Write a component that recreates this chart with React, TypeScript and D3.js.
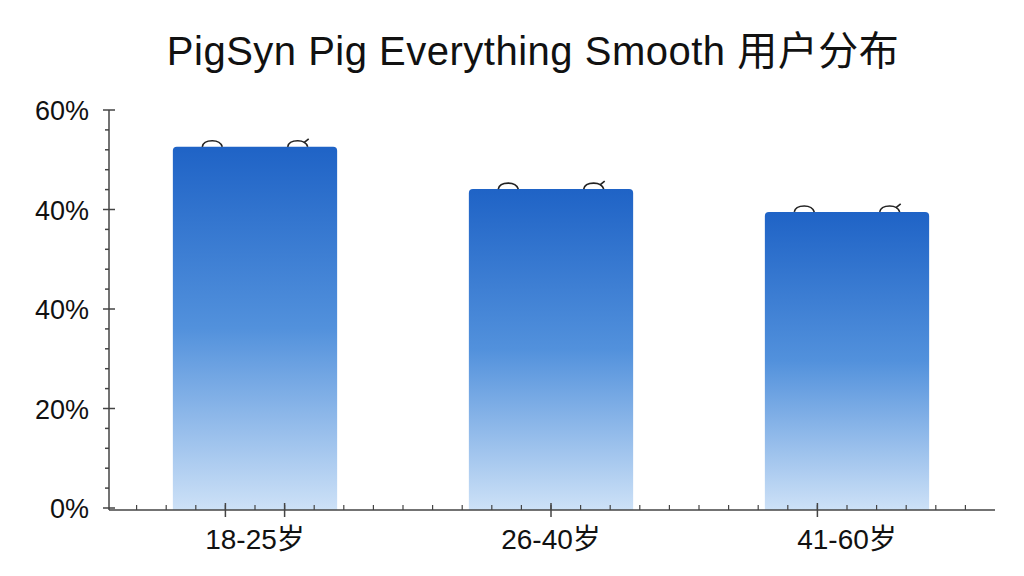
import * as d3 from "d3";
import { useEffect, useRef } from "react";

const title = "PigSyn Pig Everything Smooth 用户分布";
const categories = ["18-25岁", "26-40岁", "41-60岁"];
const values = [72.6, 64.1, 59.5];
const yTickValues = [0, 20, 40, 60, 80];
const yTickLabels = ["0%", "20%", "40%", "40%", "60%"];
// minor x ticks that are drawn longer in the reference
const xLongTicks = [4, 6, 15, 24];

const width = 1024;
const height = 576;

export default function App() {
  const svgRef = useRef<SVGSVGElement>(null);

  useEffect(() => {
    const svg = d3.select(svgRef.current);
    svg.selectChildren("*").remove();

    const left = 109;
    const right = 995;
    const top = 110;
    const bottom = 508;
    const axisY = 510;

    const x = d3
      .scaleBand<string>()
      .domain(categories)
      .range([left - 2, right])
      .paddingInner(0.445)
      .paddingOuter(0.2225);

    const y = d3.scaleLinear().domain([0, 80]).range([bottom, top]);

    const defs = svg.append("defs");
    const grad = defs
      .append("linearGradient")
      .attr("id", "barGrad")
      .attr("x1", 0)
      .attr("y1", 0)
      .attr("x2", 0)
      .attr("y2", 1);
    grad.append("stop").attr("offset", "0%").attr("stop-color", "#1f63c6");
    grad.append("stop").attr("offset", "50%").attr("stop-color", "#5291dc");
    grad.append("stop").attr("offset", "100%").attr("stop-color", "#cde1f7");

    // title
    svg
      .append("text")
      .attr("x", 533)
      .attr("y", 65)
      .attr("text-anchor", "middle")
      .attr("font-family", "Liberation Sans, Noto Sans CJK SC, sans-serif")
      .attr("font-size", 40)
      .attr("letter-spacing", 0.5)
      .attr("fill", "#111")
      .text(title);

    // bars with rounded top corners
    const r = 4;
    svg
      .append("g")
      .selectAll("path")
      .data(values)
      .join("path")
      .attr("fill", "url(#barGrad)")
      .attr("d", (d, i) => {
        const x0 = x(categories[i])!;
        const x1 = x0 + x.bandwidth();
        const y0 = y(d);
        const yb = axisY;
        const p = d3.path();
        p.moveTo(x0, yb);
        p.lineTo(x0, y0 + r);
        p.quadraticCurveTo(x0, y0, x0 + r, y0);
        p.lineTo(x1 - r, y0);
        p.quadraticCurveTo(x1, y0, x1, y0 + r);
        p.lineTo(x1, yb);
        p.closePath();
        return p.toString();
      });

    // small arcs on top of bars
    const marks = svg.append("g").attr("fill", "none").attr("stroke", "#222").attr("stroke-width", 1.6);
    values.forEach((d, i) => {
      const cx = x(categories[i])! + x.bandwidth() / 2;
      const yt = y(d);
      [-0.26, 0.26].forEach((o, k) => {
        const mx = cx + o * x.bandwidth();
        marks
          .append("path")
          .attr("d", `M${mx - 10},${yt} Q${mx - 9},${yt - 6} ${mx},${yt - 6} Q${mx + 8},${yt - 6} ${mx + 10},${yt}`);
        if (k === 1) {
          marks.append("path").attr("d", `M${mx + 6},${yt - 4} L${mx + 11},${yt - 8}`);
        }
      });
    });

    const axisColor = "#444";
    const ax = svg.append("g").attr("stroke", axisColor).attr("stroke-width", 1.5);

    // y axis
    ax.append("line").attr("x1", left).attr("x2", left).attr("y1", top).attr("y2", axisY);
    const minorY = d3.range(0, 81, 4).filter((v) => !yTickValues.includes(v));
    ax.selectAll(".ymin")
      .data(minorY)
      .join("line")
      .attr("x1", left - 4)
      .attr("x2", left)
      .attr("y1", (d) => y(d))
      .attr("y2", (d) => y(d));
    ax.selectAll(".ymaj")
      .data(yTickValues)
      .join("line")
      .attr("x1", left - 6)
      .attr("x2", left + 6)
      .attr("y1", (d) => y(d))
      .attr("y2", (d) => y(d));

    svg
      .append("g")
      .selectAll("text")
      .data(yTickValues)
      .join("text")
      .attr("x", 89)
      .attr("y", (d) => y(d) + 10)
      .attr("text-anchor", "end")
      .attr("font-family", "Liberation Sans, sans-serif")
      .attr("font-size", 27)
      .attr("fill", "#111")
      .text((d, i) => yTickLabels[i]);

    // x axis
    ax.append("line").attr("x1", left).attr("x2", right).attr("y1", axisY).attr("y2", axisY);
    const step = x.step() / 10;
    const start = x(categories[0])! + x.bandwidth() / 2 - 5 * step;
    const minorX = d3.range(1, 30).map((i) => start + i * step);
    ax.selectAll(".xmin")
      .data(minorX)
      .join("line")
      .attr("x1", (d) => d)
      .attr("x2", (d) => d)
      .attr("y1", axisY - 5)
      .attr("y2", axisY)
      .attr("stroke-width", 1.2);
    ax.selectAll(".xmaj")
      .data(xLongTicks)
      .join("line")
      .attr("x1", (d) => start + d * step)
      .attr("x2", (d) => start + d * step)
      .attr("y1", axisY - 7)
      .attr("y2", axisY + 7);

    svg
      .append("g")
      .selectAll("text")
      .data(categories)
      .join("text")
      .attr("x", (d) => x(d)! + x.bandwidth() / 2)
      .attr("y", 549)
      .attr("text-anchor", "middle")
      .attr("font-family", "Liberation Sans, Noto Sans CJK SC, sans-serif")
      .attr("font-size", 28)
      .attr("fill", "#111")
      .text((d) => d);
  }, []);

  return (
    <svg
      ref={svgRef}
      width={width}
      height={height}
      style={{ position: "absolute", left: 0, top: 0, background: "#fff" }}
    />
  );
}
